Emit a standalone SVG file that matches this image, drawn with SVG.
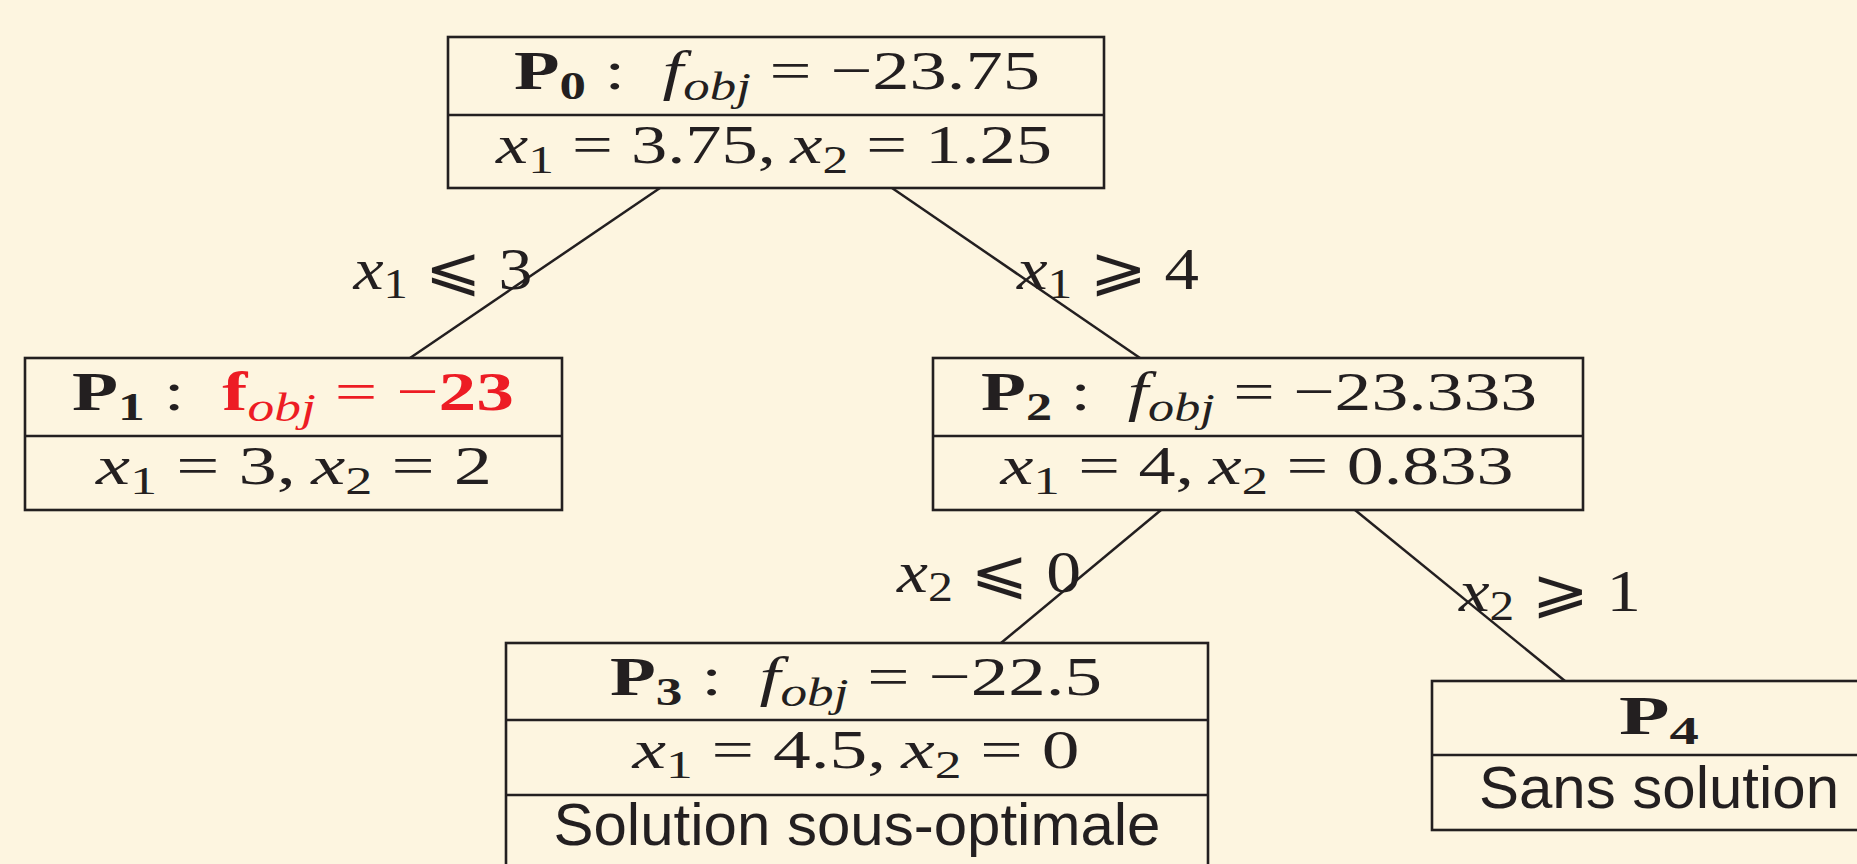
<svg xmlns="http://www.w3.org/2000/svg" width="1857" height="864" viewBox="0 0 1857 864">
<style>
.box{fill:none;stroke:#231F20;stroke-width:2.6}
.edge{stroke:#231F20;stroke-width:2.5;fill:none}
.m{font-family:"Liberation Serif","DejaVu Serif",serif;font-size:55px;fill:#231F20}
.lbl{font-family:"Liberation Serif","DejaVu Serif","DejaVu Sans",serif;font-size:60px;fill:#231F20}
.s{font-family:"Liberation Sans",Arial,sans-serif;font-size:60px;fill:#231F20}
.b{font-weight:bold}
.i{font-style:italic}
.sb{font-size:39px}
.sl{font-size:43px}
.red{fill:#ED1C24}
</style>
<rect width="1857" height="864" fill="#FDF5E0"/>
<g id="connectors">
<line class="edge" x1="660" y1="188" x2="410" y2="358"/>
<line class="edge" x1="892" y1="188" x2="1140" y2="358"/>
<line class="edge" x1="1161" y1="510" x2="1001" y2="643"/>
<line class="edge" x1="1355" y1="510" x2="1565" y2="681"/>
<text class="lbl" x="443" y="289" text-anchor="middle" textLength="179" lengthAdjust="spacingAndGlyphs"><tspan class="i">x</tspan><tspan class="sl" dy="9">1</tspan><tspan dy="-9"> ⩽ 3</tspan></text>
<text class="lbl" x="1108" y="289" text-anchor="middle" textLength="182" lengthAdjust="spacingAndGlyphs"><tspan class="i">x</tspan><tspan class="sl" dy="9">1</tspan><tspan dy="-9"> ⩾ 4</tspan></text>
<text class="lbl" x="989" y="592" text-anchor="middle" textLength="184" lengthAdjust="spacingAndGlyphs"><tspan class="i">x</tspan><tspan class="sl" dy="9">2</tspan><tspan dy="-9"> ⩽ 0</tspan></text>
<text class="lbl" x="1550" y="611" text-anchor="middle" textLength="182" lengthAdjust="spacingAndGlyphs"><tspan class="i">x</tspan><tspan class="sl" dy="9">2</tspan><tspan dy="-9"> ⩾ 1</tspan></text>
</g>
<g id="P0">
<rect class="box" x="448" y="37" width="656" height="151"/>
<line class="box" x1="448" y1="115" x2="1104" y2="115"/>
<text class="m" x="777" y="89" text-anchor="middle" textLength="526" lengthAdjust="spacingAndGlyphs"><tspan class="b">P</tspan><tspan class="b sb" dy="10">0</tspan><tspan dy="-10">&#160;:&#160;&#160;</tspan><tspan class="i">f</tspan><tspan class="i sb" dy="11">obj</tspan><tspan dy="-11"> = −23.75</tspan></text>
<text class="m" x="774" y="163" text-anchor="middle" textLength="556" lengthAdjust="spacingAndGlyphs"><tspan class="i">x</tspan><tspan class="sb" dy="10">1</tspan><tspan dy="-10"> = 3.75,&#8201;</tspan><tspan class="i">x</tspan><tspan class="sb" dy="10">2</tspan><tspan dy="-10"> = 1.25</tspan></text>
</g>
<g id="P1">
<rect class="box" x="25" y="358" width="537" height="152"/>
<line class="box" x1="25" y1="436" x2="562" y2="436"/>
<text class="m" x="293" y="410" text-anchor="middle" textLength="442" lengthAdjust="spacingAndGlyphs"><tspan class="b">P</tspan><tspan class="b sb" dy="10">1</tspan><tspan dy="-10">&#160;:&#160;&#160;</tspan><tspan class="b red">f</tspan><tspan class="i sb red" dy="11">obj</tspan><tspan class="red" dy="-11"> = −</tspan><tspan class="b red">23</tspan></text>
<text class="m" x="294" y="484" text-anchor="middle" textLength="396" lengthAdjust="spacingAndGlyphs"><tspan class="i">x</tspan><tspan class="sb" dy="10">1</tspan><tspan dy="-10"> = 3,&#8201;</tspan><tspan class="i">x</tspan><tspan class="sb" dy="10">2</tspan><tspan dy="-10"> = 2</tspan></text>
</g>
<g id="P2">
<rect class="box" x="933" y="358" width="650" height="152"/>
<line class="box" x1="933" y1="436" x2="1583" y2="436"/>
<text class="m" x="1259" y="410" text-anchor="middle" textLength="556" lengthAdjust="spacingAndGlyphs"><tspan class="b">P</tspan><tspan class="b sb" dy="10">2</tspan><tspan dy="-10">&#160;:&#160;&#160;</tspan><tspan class="i">f</tspan><tspan class="i sb" dy="11">obj</tspan><tspan dy="-11"> = −23.333</tspan></text>
<text class="m" x="1257" y="484" text-anchor="middle" textLength="513" lengthAdjust="spacingAndGlyphs"><tspan class="i">x</tspan><tspan class="sb" dy="10">1</tspan><tspan dy="-10"> = 4,&#8201;</tspan><tspan class="i">x</tspan><tspan class="sb" dy="10">2</tspan><tspan dy="-10"> = 0.833</tspan></text>
</g>
<g id="P3">
<rect class="box" x="506" y="643" width="702" height="232"/>
<line class="box" x1="506" y1="720" x2="1208" y2="720"/>
<line class="box" x1="506" y1="795" x2="1208" y2="795"/>
<text class="m" x="856" y="695" text-anchor="middle" textLength="492" lengthAdjust="spacingAndGlyphs"><tspan class="b">P</tspan><tspan class="b sb" dy="10">3</tspan><tspan dy="-10">&#160;:&#160;&#160;</tspan><tspan class="i">f</tspan><tspan class="i sb" dy="11">obj</tspan><tspan dy="-11"> = −22.5</tspan></text>
<text class="m" x="856" y="768" text-anchor="middle" textLength="447" lengthAdjust="spacingAndGlyphs"><tspan class="i">x</tspan><tspan class="sb" dy="10">1</tspan><tspan dy="-10"> = 4.5,&#8201;</tspan><tspan class="i">x</tspan><tspan class="sb" dy="10">2</tspan><tspan dy="-10"> = 0</tspan></text>
<text class="s" x="857" y="845" text-anchor="middle">Solution sous-optimale</text>
</g>
<g id="P4">
<rect class="box" x="1432" y="681" width="460" height="149"/>
<line class="box" x1="1432" y1="755" x2="1892" y2="755"/>
<text class="m" x="1659" y="734" text-anchor="middle" textLength="80" lengthAdjust="spacingAndGlyphs"><tspan class="b">P</tspan><tspan class="b sb" dy="10">4</tspan></text>
<text class="s" x="1659" y="808" text-anchor="middle">Sans solution</text>
</g>
</svg>
